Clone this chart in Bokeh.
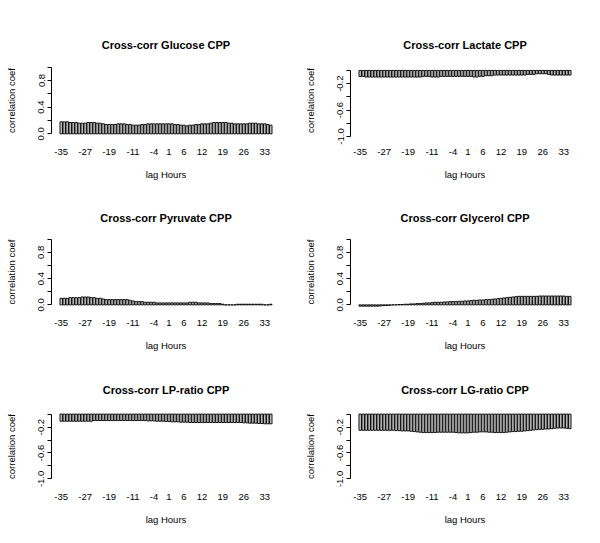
from bokeh.plotting import figure
from bokeh.models import FixedTicker, Range1d
from bokeh.layouts import column, row
from bokeh.embed import file_html
from bokeh.resources import INLINE

# ---------------- data ----------------
lags = list(range(-35, 36))
x_tick_lags = [-35, -27, -19, -11, -4, 1, 6, 12, 19, 26, 33]
x_tick_labels = ["-35", "-27", "-19", "-11", "-4", "1", "6", "12", "19", "26", "33"]

titles = ["Cross-corr Glucose CPP", "Cross-corr Lactate CPP",
          "Cross-corr Pyruvate CPP", "Cross-corr Glycerol CPP",
          "Cross-corr LP-ratio CPP", "Cross-corr LG-ratio CPP"]

glucose = [0.18, 0.18, 0.18, 0.17, 0.17, 0.17, 0.16, 0.16, 0.16, 0.17,
           0.17, 0.17, 0.16, 0.16, 0.15, 0.14, 0.14, 0.14, 0.14, 0.15,
           0.15, 0.15, 0.14, 0.14, 0.13, 0.13, 0.13, 0.14, 0.14, 0.15,
           0.15, 0.15, 0.15, 0.15, 0.15, 0.15, 0.15, 0.15, 0.14, 0.14,
           0.13, 0.13, 0.12, 0.13, 0.13, 0.14, 0.14, 0.15, 0.15, 0.15,
           0.16, 0.17, 0.17, 0.17, 0.17, 0.17, 0.16, 0.16, 0.15, 0.15,
           0.15, 0.15, 0.15, 0.16, 0.16, 0.16, 0.15, 0.15, 0.15, 0.14,
           0.13]

lactate = [-0.09, -0.09, -0.10, -0.10, -0.10, -0.10, -0.10, -0.10, -0.10, -0.10,
           -0.10, -0.10, -0.10, -0.10, -0.10, -0.10, -0.10, -0.10, -0.10, -0.10,
           -0.10, -0.09, -0.09, -0.09, -0.10, -0.10, -0.10, -0.09, -0.09, -0.09,
           -0.09, -0.09, -0.09, -0.09, -0.09, -0.09, -0.09, -0.09, -0.10, -0.10,
           -0.09, -0.09, -0.08, -0.08, -0.08, -0.07, -0.07, -0.07, -0.07, -0.07,
           -0.07, -0.07, -0.07, -0.07, -0.07, -0.07, -0.06, -0.06, -0.06, -0.05,
           -0.05, -0.05, -0.05, -0.06, -0.07, -0.07, -0.07, -0.07, -0.07, -0.07,
           -0.07]

pyruvate = [0.10, 0.10, 0.10, 0.11, 0.11, 0.11, 0.11, 0.12, 0.12, 0.12,
            0.11, 0.11, 0.10, 0.10, 0.09, 0.08, 0.08, 0.08, 0.08, 0.08,
            0.08, 0.08, 0.08, 0.07, 0.06, 0.05, 0.05, 0.05, 0.04, 0.04,
            0.04, 0.04, 0.03, 0.03, 0.03, 0.03, 0.03, 0.03, 0.03, 0.03,
            0.03, 0.03, 0.03, 0.04, 0.04, 0.04, 0.03, 0.03, 0.03, 0.03,
            0.02, 0.02, 0.02, 0.02, 0.01, 0.00, 0.00, 0.00, 0.00, 0.01,
            0.01, 0.01, 0.01, 0.01, 0.01, 0.01, 0.01, 0.01, 0.00, 0.00,
            0.01]

glycerol = [-0.02, -0.02, -0.02, -0.02, -0.02, -0.02, -0.02, -0.015, -0.01, -0.01,
            -0.005, 0.00, 0.00, 0.005, 0.005, 0.01, 0.01, 0.015, 0.015, 0.02,
            0.02, 0.025, 0.03, 0.03, 0.035, 0.04, 0.04, 0.04, 0.045, 0.045,
            0.05, 0.05, 0.05, 0.055, 0.055, 0.06, 0.06, 0.065, 0.07, 0.07,
            0.075, 0.075, 0.08, 0.08, 0.085, 0.09, 0.095, 0.10, 0.105, 0.11,
            0.115, 0.12, 0.125, 0.13, 0.13, 0.13, 0.13, 0.13, 0.13, 0.13,
            0.135, 0.135, 0.135, 0.135, 0.135, 0.135, 0.135, 0.135, 0.135, 0.13,
            0.13]

lp_ratio = [-0.11, -0.11, -0.11, -0.11, -0.11, -0.11, -0.11, -0.11, -0.11, -0.11,
            -0.11, -0.10, -0.10, -0.10, -0.10, -0.10, -0.10, -0.10, -0.10, -0.10,
            -0.10, -0.10, -0.10, -0.10, -0.10, -0.10, -0.10, -0.10, -0.10, -0.105,
            -0.105, -0.105, -0.11, -0.11, -0.11, -0.115, -0.115, -0.12, -0.12, -0.12,
            -0.125, -0.125, -0.125, -0.13, -0.13, -0.13, -0.13, -0.13, -0.13, -0.13,
            -0.13, -0.13, -0.13, -0.13, -0.13, -0.13, -0.13, -0.13, -0.13, -0.13,
            -0.13, -0.135, -0.135, -0.14, -0.14, -0.14, -0.145, -0.145, -0.15, -0.15,
            -0.15]

lg_ratio = [-0.25, -0.25, -0.25, -0.25, -0.25, -0.25, -0.25, -0.25, -0.25, -0.25,
            -0.25, -0.25, -0.255, -0.255, -0.26, -0.26, -0.26, -0.265, -0.27, -0.275,
            -0.28, -0.285, -0.285, -0.285, -0.285, -0.285, -0.28, -0.28, -0.28, -0.28,
            -0.28, -0.28, -0.285, -0.29, -0.29, -0.29, -0.29, -0.285, -0.28, -0.28,
            -0.275, -0.275, -0.275, -0.28, -0.28, -0.285, -0.285, -0.285, -0.285, -0.28,
            -0.275, -0.27, -0.27, -0.265, -0.265, -0.26, -0.255, -0.25, -0.245, -0.24,
            -0.235, -0.235, -0.23, -0.23, -0.225, -0.22, -0.215, -0.215, -0.215, -0.22,
            -0.225]

pos_ticks = [0.0, 0.2, 0.4, 0.6, 0.8, 1.0]
pos_labels = {0.0: "0.0", 0.2: "", 0.4: "0.4", 0.6: "", 0.8: "0.8", 1.0: ""}
neg_ticks = [-1.0, -0.8, -0.6, -0.4, -0.2, 0.0]
neg_labels = {-1.0: "-1.0", -0.8: "", -0.6: "-0.6", -0.4: "", -0.2: "-0.2", 0.0: ""}

series = [glucose, lactate, pyruvate, glycerol, lp_ratio, lg_ratio]
positive = [True, False, True, True, False, False]

# ---------------- layout ----------------
FONT = "Liberation Sans"
row_h = [184, 170, 173]
row_mbt = [64, 52, 57]
row_frame_h = [72, 71, 71]
row_title_standoff = [27, 26, 31]
col_w = [292, 292]
col_mbl = [51, 58]
col_frame_w = [229, 229]


def make_panel(i):
    r, c = divmod(i, 2)
    vals = series[i]
    if positive[i]:
        yr = Range1d(-0.04, 1.04)
        ticks, labels, bounds = pos_ticks, pos_labels, (0.0, 1.0)
    else:
        yr = Range1d(-1.0, 0.09) if i == 1 else Range1d(-1.04, 0.04)
        ticks, labels, bounds = neg_ticks, neg_labels, (-1.0, 0.0)

    mbb = row_h[r] - row_mbt[r] - row_frame_h[r]
    mbr = col_w[c] - col_mbl[c] - col_frame_w[c]
    p = figure(width=col_w[c], height=row_h[r], output_backend="svg",
               toolbar_location=None, x_range=Range1d(-38.25, 38.25), y_range=yr,
               min_border_left=col_mbl[c], min_border_right=mbr,
               min_border_top=row_mbt[r], min_border_bottom=mbb,
               title=titles[i])
    p.outline_line_color = None
    p.xgrid.visible = False
    p.ygrid.visible = False
    p.background_fill_color = "white"
    p.border_fill_color = "white"

    p.title.align = "center"
    p.title.text_font = FONT
    p.title.text_font_size = "11px"
    p.title.text_font_style = "bold"
    p.title.text_color = "black"
    p.title.standoff = row_title_standoff[r]

    p.vbar(x=lags, top=vals, bottom=0, width=1 / 1.2,
           fill_color="#bebebe", line_color="black", line_width=0.9)

    xa = p.xaxis[0]
    xa.ticker = FixedTicker(ticks=x_tick_lags)
    xa.major_label_overrides = dict(zip(x_tick_lags, x_tick_labels))
    xa.axis_line_color = None
    xa.major_tick_line_color = None
    xa.minor_tick_line_color = None
    xa.major_tick_out = 0
    xa.major_tick_in = 0
    xa.major_label_standoff = 12
    xa.major_label_text_font = FONT
    xa.major_label_text_font_size = "9.5px"
    xa.major_label_text_color = "black"
    xa.axis_label = "lag Hours"
    xa.axis_label_standoff = 11
    xa.axis_label_text_font = FONT
    xa.axis_label_text_font_size = "9.5px"
    xa.axis_label_text_font_style = "normal"
    xa.axis_label_text_color = "black"

    ya = p.yaxis[0]
    ya.ticker = FixedTicker(ticks=ticks)
    ya.major_label_overrides = labels
    ya.bounds = bounds
    ya.axis_line_color = "black"
    ya.major_tick_line_color = "black"
    ya.minor_tick_line_color = None
    ya.major_tick_out = 4
    ya.major_tick_in = 0
    ya.major_label_standoff = 3
    ya.major_label_orientation = "vertical"
    ya.major_label_text_font = FONT
    ya.major_label_text_font_size = "9.5px"
    ya.major_label_text_color = "black"
    ya.axis_label = "correlation coef"
    ya.axis_label_standoff = 19
    ya.axis_label_text_font = FONT
    ya.axis_label_text_font_size = "9.5px"
    ya.axis_label_text_font_style = "normal"
    ya.axis_label_text_color = "black"
    return p


panels = [make_panel(i) for i in range(6)]
layout = column(row(panels[0], panels[1]),
                row(panels[2], panels[3]),
                row(panels[4], panels[5]))

open("out.html", "w").write(file_html(layout, INLINE))
